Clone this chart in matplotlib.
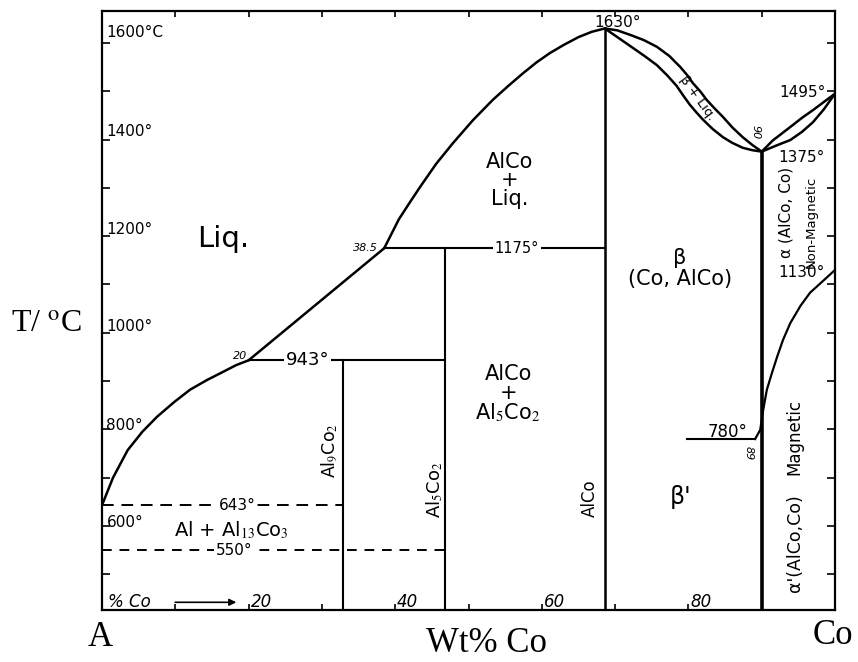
import matplotlib
matplotlib.use("Agg")
import matplotlib.pyplot as plt

# Al-Co phase diagram (wt% Co, deg C)
liq_left_x = [0, 1.5, 3.5, 5.5, 7.5, 9.8, 12, 14.3, 16.5, 18.3, 20]
liq_left_t = [643, 700, 757, 795, 826, 856, 882, 902, 919, 933, 943]

liq_mid_x = [20, 38.5]
liq_mid_t = [943, 1175]

liq_alco_x = [38.5, 39.5, 40.5, 42, 43.4, 45.6, 47.9, 50.6, 53.3, 55.5, 57.5, 59.3,
              61.1, 63, 65, 66.8, 68.6]
liq_alco_t = [1175, 1205, 1235, 1270, 1302, 1350, 1393, 1440, 1482, 1512, 1538, 1560,
              1579, 1596, 1612, 1623, 1630]

liq_beta_x = [68.6, 70.3, 72.0, 73.9, 75.7, 77.4, 78.9, 79.8, 80.6, 81.6, 82.5, 83.6,
              84.7, 86.0, 87.4, 88.7, 90]
liq_beta_t = [1630, 1626, 1617, 1606, 1592, 1573, 1550, 1534, 1517, 1500, 1482, 1464,
              1447, 1425, 1405, 1389, 1375]

sol_beta_x = [68.6, 70.5, 72.4, 74.1, 75.7, 77.1, 78.4, 79.3, 80.2, 81.1, 82.0, 83.3,
              84.7, 86.0, 87.4, 88.7, 90]
sol_beta_t = [1630, 1610, 1590, 1572, 1554, 1533, 1511, 1491, 1472, 1456, 1441, 1422,
              1405, 1393, 1383, 1378, 1375]

liq_co_x = [90, 91.5, 93.9, 95.5, 97.0, 98.5, 100]
liq_co_t = [1375, 1398, 1426, 1445, 1461, 1478, 1495]
sol_co_x = [90, 91.9, 93.9, 95.5, 97.0, 98.5, 100]
sol_co_t = [1375, 1387, 1399, 1416, 1436, 1463, 1495]

mag_x = [89.1, 89.8, 90.2, 90.7, 91.4, 92.1, 92.9, 93.9, 95.3, 96.6, 98.2, 100]
mag_t = [780, 799, 840, 882, 917, 950, 985, 1020, 1056, 1083, 1105, 1130]

# compounds (x) and invariant temperatures
x_al9co2 = 32.9
x_al5co2 = 46.8
x_alco = 68.6
x_beta = 90
t_943 = 943
t_1175 = 1175
t_643 = 643
t_550 = 550
t_780 = 780
x_780_start = 79.8

t_ticks = [500, 600, 700, 800, 900, 1000, 1100, 1200, 1300, 1400, 1500, 1600]
t_labels = ["1600°C", "1400°", "1200°", "1000°", "800°", "600°"]
t_label_pos = [1621, 1416, 1213, 1012, 809, 608]
x_ticks = [10, 20, 30, 40, 50, 60, 70, 80, 90]
x_labels = [20, 40, 60, 80]

T_MIN, T_MAX = 426, 1666

plt.rcParams["mathtext.fontset"] = "stix"
fig = plt.figure(figsize=(8.58, 6.62), dpi=100)
ax = fig.add_axes([0.1189, 0.0785, 0.8543, 0.9048])
ax.set_xlim(0, 100)
ax.set_ylim(T_MIN, T_MAX)

lw = 1.8
k = "black"

# 1. phase boundaries
for xs, ts in [(liq_left_x, liq_left_t), (liq_mid_x, liq_mid_t), (liq_alco_x, liq_alco_t),
               (liq_beta_x, liq_beta_t), (sol_beta_x, sol_beta_t),
               (liq_co_x, liq_co_t), (sol_co_x, sol_co_t)]:
    ax.plot(xs, ts, color=k, lw=lw, solid_joinstyle="round", solid_capstyle="round")
ax.plot(mag_x, mag_t, color=k, lw=1.6, solid_joinstyle="round")

# 2. vertical compound lines
ax.plot([x_al9co2, x_al9co2], [T_MIN, t_943], color=k, lw=1.5)
ax.plot([x_al5co2, x_al5co2], [T_MIN, t_1175], color=k, lw=1.5)
ax.plot([x_alco, x_alco], [T_MIN, 1630], color=k, lw=1.8)
ax.plot([x_beta, x_beta], [T_MIN, 1375], color=k, lw=2.6)

# 3. horizontal invariants
ax.plot([20, x_al5co2], [t_943, t_943], color=k, lw=1.5)
ax.plot([38.5, x_alco], [t_1175, t_1175], color=k, lw=1.5)
ax.plot([x_780_start, 89.1], [t_780, t_780], color=k, lw=1.5)
ax.plot([0, x_al9co2], [t_643, t_643], color=k, lw=1.4, ls=(0, (6, 4)))
ax.plot([0, x_al5co2], [t_550, t_550], color=k, lw=1.4, ls=(0, (5, 4)))

# 4. frame and ticks
for s in ax.spines.values():
    s.set_linewidth(1.6)
ax.set_xticks(x_ticks)
ax.set_yticks(t_ticks)
ax.tick_params(direction="in", length=6, width=1.2, labelleft=False, labelbottom=False,
               top=True, right=True)
ax.tick_params(axis="x", length=4)

bg = dict(fc="white", ec="none", pad=1)
for lab, t in zip(t_labels, t_label_pos):
    ax.text(0.6, t, lab, fontsize=11, ha="left", va="center")
for v in x_labels:
    ax.text(v + 1.7, 442, f"{v}", fontsize=12, ha="center", va="center", style="italic")
ax.text(0.8, 442, "% Co", fontsize=12, ha="left", va="center", style="italic")
ax.annotate("", xy=(18.7, 442), xytext=(9.6, 442),
            arrowprops=dict(arrowstyle="-|>", color=k, lw=1.2, mutation_scale=10))

# temperature labels on the lines
ax.text(28.0, t_943, "943°", fontsize=13, ha="center", va="center", bbox=bg)
ax.text(56.6, t_1175, "1175°", fontsize=10.5, ha="center", va="center", bbox=bg)
ax.text(18.4, t_643, "643°", fontsize=11, ha="center", va="center", bbox=bg)
ax.text(18.0, t_550, "550°", fontsize=11, ha="center", va="center", bbox=bg)
ax.text(70.3, 1643, "1630°", fontsize=11, ha="center", va="center")
ax.text(95.5, 1497, "1495°", fontsize=11, ha="center", va="center")
ax.text(95.4, 1363, "1375°", fontsize=11, ha="center", va="center")
ax.text(95.4, 1124, "1130°", fontsize=11, ha="center", va="center")
ax.text(85.4, 795, "780°", fontsize=12, ha="center", va="center")
ax.text(18.8, 952, "20", fontsize=8, ha="center", va="center", style="italic")
ax.text(36.0, 1175, "38.5", fontsize=8, ha="center", va="center", style="italic")
ax.text(89.2, 1415, "90", fontsize=8, ha="center", va="center", style="italic", rotation=-90)
ax.text(88.2, 750, "89", fontsize=8, ha="center", va="center", style="italic", rotation=-90)

# 5. phase field labels
ax.text(16.5, 1195, "Liq.", fontsize=21, ha="center", va="center")
ax.text(55.6, 1316, "AlCo\n+\nLiq.", fontsize=15, ha="center", va="center", linespacing=0.9)
ax.text(78.8, 1133, "β\n(Co, AlCo)", fontsize=15, ha="center", va="center", linespacing=1.1)
ax.text(55.4, 873, "AlCo\n+\nAl$_5$Co$_2$", fontsize=15, ha="center", va="center", linespacing=0.9)
ax.text(78.9, 660, "β'", fontsize=17, ha="center", va="center")
ax.text(17.7, 592, "Al + Al$_{13}$Co$_3$", fontsize=14, ha="center", va="center")
ax.text(31.1, 757, "Al$_9$Co$_2$", fontsize=12.5, ha="center", va="center", rotation=90)
ax.text(45.4, 675, "Al$_5$Co$_2$", fontsize=13, ha="center", va="center", rotation=90)
ax.text(66.5, 658, "AlCo", fontsize=12, ha="center", va="center", rotation=90)
ax.text(81.2, 1485, "β + Liq.", fontsize=9.5, ha="center", va="center", rotation=-54)
ax.text(93.3, 1250, "α (AlCo, Co)", fontsize=11, ha="center", va="center", rotation=90)
ax.text(96.8, 1230, "Non-Magnetic", fontsize=9.5, ha="center", va="center", rotation=90)
ax.text(94.5, 784, "Magnetic", fontsize=12, ha="center", va="center", rotation=90)
ax.text(94.5, 565, "α'(AlCo,Co)", fontsize=12.5, ha="center", va="center", rotation=90)

# 6. outer labels
serif = "Liberation Serif"
fig.text(47 / 858, 1 - 325 / 662, "T/ $^{\\mathrm{o}}$C", fontsize=23, family=serif, ha="center", va="center")
fig.text(100 / 858, 1 - 638 / 662, "A", fontsize=25, family=serif, ha="center", va="center")
fig.text(486 / 858, 1 - 643 / 662, "Wt% Co", fontsize=25, family=serif, ha="center", va="center")
fig.text(833 / 858, 1 - 636 / 662, "Co", fontsize=25, family=serif, ha="center", va="center")

fig.savefig("out.png", dpi=100)
